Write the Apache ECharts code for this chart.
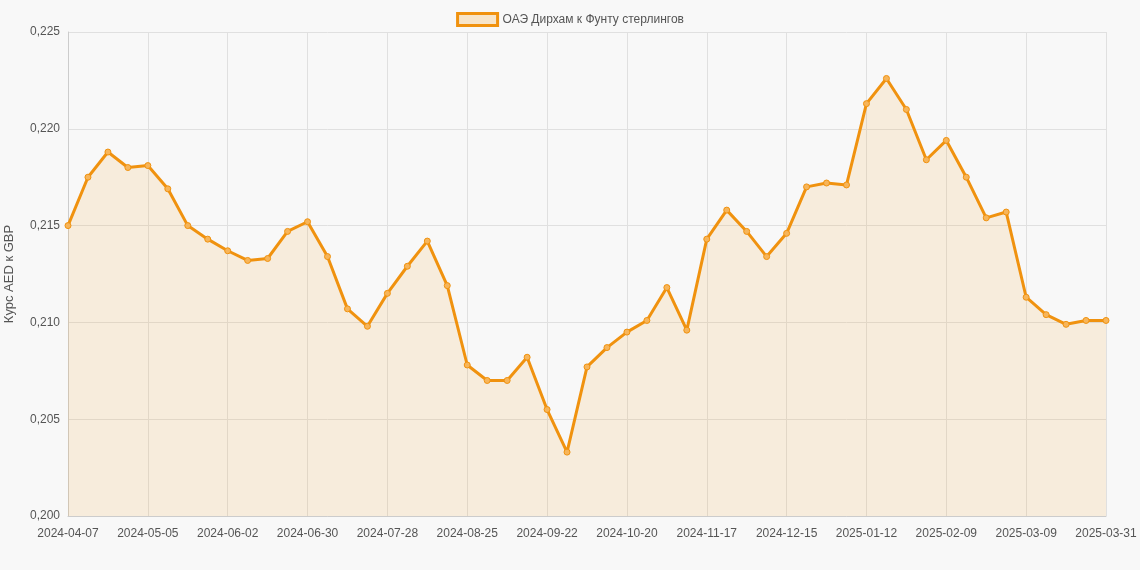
<!DOCTYPE html>
<html>
<head>
<meta charset="utf-8">
<script src="https://cdn.jsdelivr.net/npm/echarts@6/dist/echarts.min.js"></script>
<style>
  html, body { margin: 0; padding: 0; background: #f8f8f8; }
  #chart { width: 1140px; height: 570px; }
</style>
</head>
<body>
<div id="chart"></div>
<script>
// weekly dates, last point is a partial week
let dates = [];
let d = new Date(Date.UTC(2024, 3, 7));
for (let i = 0; i < 52; i++) {
  dates.push(d.toISOString().slice(0, 10));
  d.setUTCDate(d.getUTCDate() + 7);
}
dates.push("2025-03-31");

let rates = [
  0.2150, 0.2175, 0.2188, 0.2180, 0.2181, 0.2169, 0.2150, 0.2143, 0.2137, 0.2132,
  0.2133, 0.2147, 0.2152, 0.2134, 0.2107, 0.2098, 0.2115, 0.2129, 0.2142, 0.2119,
  0.2078, 0.2070, 0.2070, 0.2082, 0.2055, 0.2033, 0.2077, 0.2087, 0.2095, 0.2101,
  0.2118, 0.2096, 0.2143, 0.2158, 0.2147, 0.2134, 0.2146, 0.2170, 0.2172, 0.2171,
  0.2213, 0.2226, 0.2210, 0.2184, 0.2194, 0.2175, 0.2154, 0.2157, 0.2113, 0.2104,
  0.2099, 0.2101, 0.2101
];

let seriesName = "ОАЭ Дирхам к Фунту стерлингов";

var myChart = echarts.init(document.getElementById("chart"));
var option = {
  backgroundColor: "#f8f8f8",
  textStyle: { fontFamily: "Arial, Liberation Sans, sans-serif" },
  legend: {
    top: 7,
    itemWidth: 40,
    itemHeight: 12,
    icon: "rect",
    textStyle: { color: "#555", fontSize: 12 },
    data: [{ name: seriesName, itemStyle: { color: "rgba(243,156,18,0.2)", borderColor: "#f0920f", borderWidth: 3 } }],
  },
  grid: { left: 68, right: 34, top: 32, bottom: 54, outerBoundsMode: "none", containLabel: false },
  xAxis: {
    type: "category",
    boundaryGap: false,
    data: dates,
    axisTick: { show: false },
    axisLine: { lineStyle: { color: "#ccc" } },
    axisLabel: { interval: 3, color: "#555", fontSize: 12, margin: 12 },
    splitLine: { show: true, interval: 3, lineStyle: { color: "#e0e0e0" } },
  },
  yAxis: {
    type: "value",
    min: 0.2,
    max: 0.225,
    interval: 0.005,
    name: "Курс AED к GBP",
    nameLocation: "middle",
    nameGap: 52,
    nameTextStyle: { color: "#555", fontSize: 13 },
    axisLine: { show: true, lineStyle: { color: "#ccc" } },
    axisTick: { show: false },
    axisLabel: {
      color: "#555",
      fontSize: 12,
      formatter: function (v) { return v.toFixed(3).replace(".", ","); },
    },
    splitLine: { lineStyle: { color: "#e0e0e0" } },
  },
  series: [
    {
      name: seriesName,
      type: "line",
      data: rates,
      symbol: "circle",
      symbolSize: 6,
      lineStyle: { color: "#f0920f", width: 3 },
      itemStyle: { color: "#f7b55a", borderColor: "#f0920f", borderWidth: 1 },
      areaStyle: { color: "rgba(243,156,18,0.17)" },
    },
  ],
};
myChart.setOption(option);
</script>
</body>
</html>
